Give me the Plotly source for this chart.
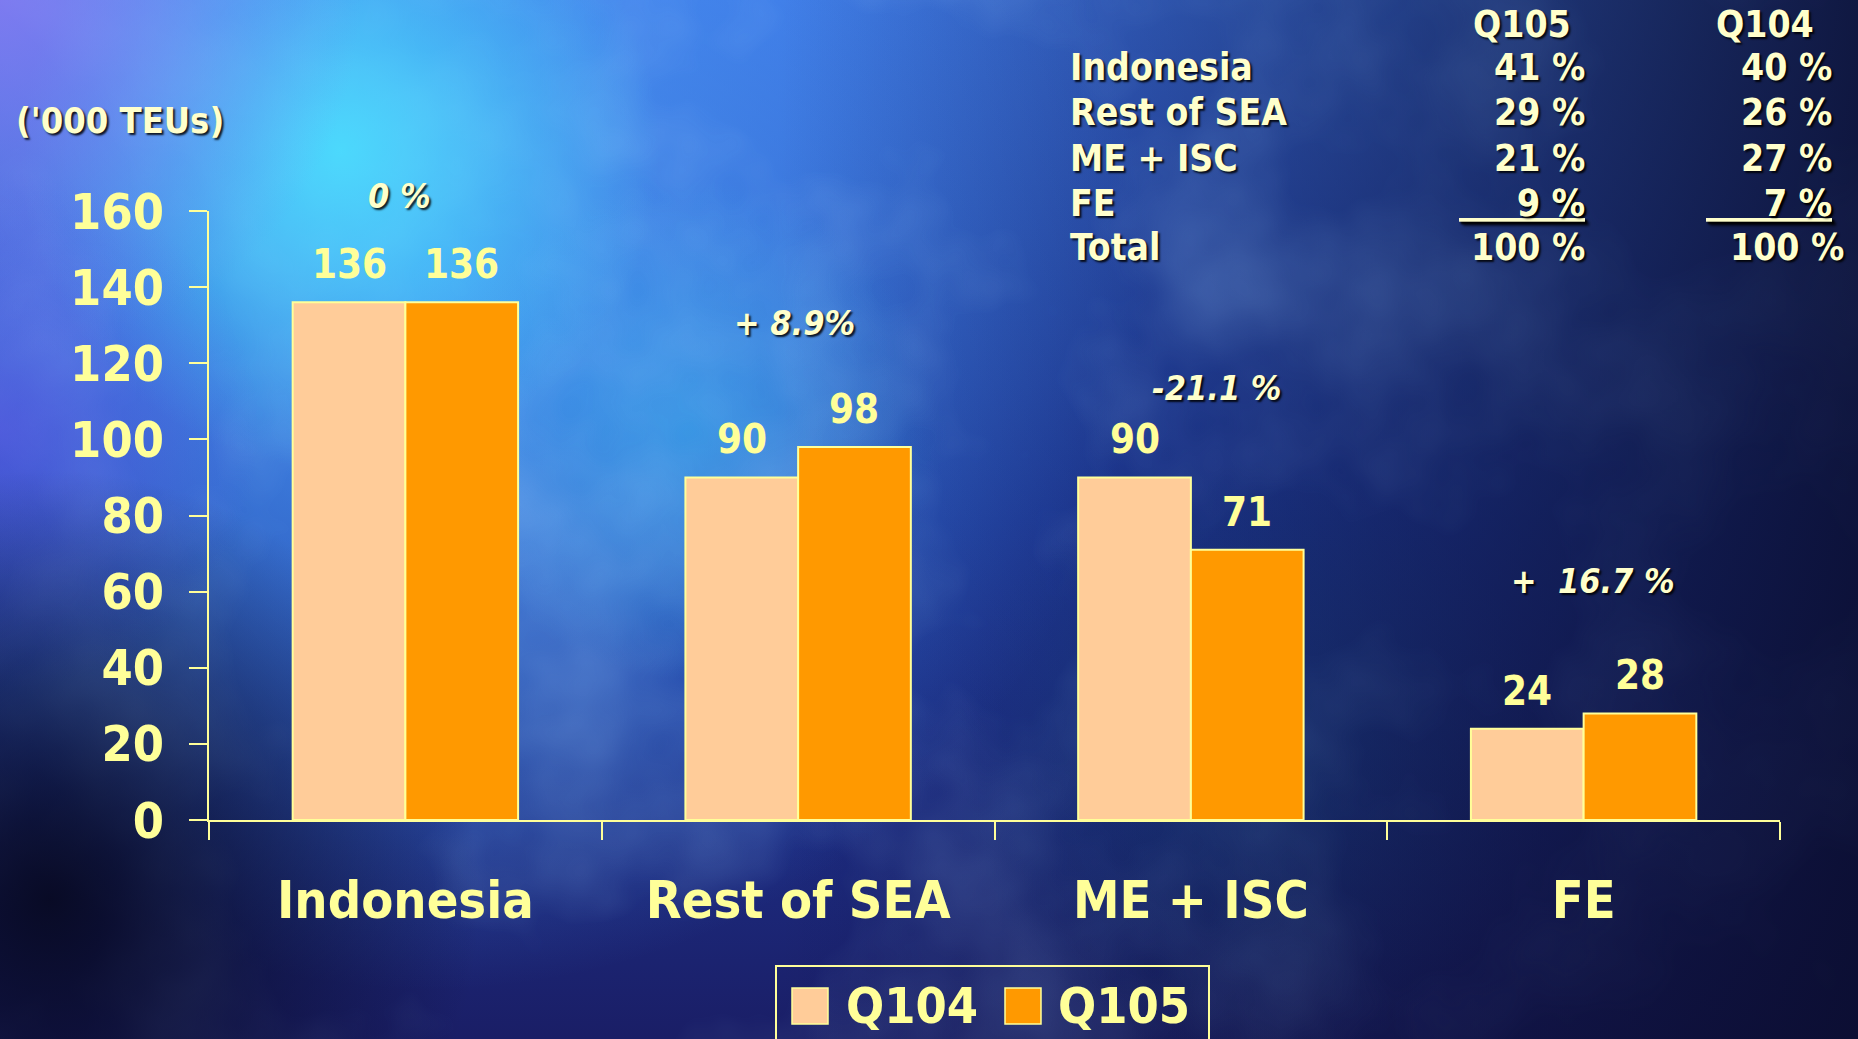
import base64
import plotly.graph_objects as go

# ---------------- data ----------------
categories = ["Indonesia", "Rest of SEA", "ME + ISC", "FE"]
series_names = ["Q104", "Q105"]
q104 = [136, 90, 90, 24]
q105 = [136, 98, 71, 28]
change_labels = ["0 %", "+ 8.9%", "-21.1 %", "+  16.7 %"]
y_tick_values = [0, 20, 40, 60, 80, 100, 120, 140, 160]
unit_label = "('000 TEUs)"

share_rows = ["Indonesia", "Rest of SEA", "ME + ISC", "FE", "Total"]
share_cols = ["Q105", "Q104"]
share_q105 = [41, 29, 21, 9, 100]
share_q104 = [40, 26, 27, 7, 100]

# ---------------- style / layout constants ----------------
W, H = 1858, 1039
L, R, T, B = 209, 78, 211, 219
PW, PH = W - L - R, H - T - B
FONT = "DejaVu Sans Condensed, DejaVu Sans, sans-serif"
YEL = "#FFFF99"
PALE = "#FFFFCC"
COLORS = ["#FFCC99", "#FF9900"]
SHADOW = "2px 2px 2px rgba(0,0,0,0.85)"
BARGAP = 0.426


def px_x(px):
    return (px - L) / PW


def px_y(py):
    return (H - B - py) / PH


# ---------------- background (svg gradients + soft cloud texture) ----------------
svg = f"""<svg xmlns="http://www.w3.org/2000/svg" width="{W}" height="{H}" viewBox="0 0 {W} {H}">
<defs>
<linearGradient id="v" x1="0" y1="0" x2="0" y2="1">
<stop offset="0" stop-color="#3c72e2"/><stop offset="0.5" stop-color="#2140a8"/><stop offset="1" stop-color="#1a1e66"/>
</linearGradient>
<linearGradient id="h" x1="0" y1="0" x2="1" y2="0">
<stop offset="0.42" stop-color="#0a0c30" stop-opacity="0"/><stop offset="1" stop-color="#0a0c2c" stop-opacity="0.88"/>
</linearGradient>
<radialGradient id="r1" cx="430" cy="270" r="720" gradientUnits="userSpaceOnUse">
<stop offset="0" stop-color="#4a9af6" stop-opacity="0.9"/><stop offset="1" stop-color="#4a9af6" stop-opacity="0"/>
</radialGradient>
<radialGradient id="r2" cx="340" cy="150" r="320" gradientUnits="userSpaceOnUse">
<stop offset="0" stop-color="#4ae4ff" stop-opacity="0.85"/><stop offset="1" stop-color="#4ae4ff" stop-opacity="0"/>
</radialGradient>
<radialGradient id="r3" cx="690" cy="430" r="250" gradientUnits="userSpaceOnUse">
<stop offset="0" stop-color="#3ab8f2" stop-opacity="0.5"/><stop offset="1" stop-color="#3ab8f2" stop-opacity="0"/>
</radialGradient>
<radialGradient id="r4" cx="0" cy="0" r="360" gradientUnits="userSpaceOnUse">
<stop offset="0" stop-color="#8c7af2" stop-opacity="0.8"/><stop offset="1" stop-color="#8c7af2" stop-opacity="0"/>
</radialGradient>
<radialGradient id="r5" cx="50" cy="900" r="430" gradientUnits="userSpaceOnUse">
<stop offset="0" stop-color="#06071c" stop-opacity="0.9"/><stop offset="1" stop-color="#06071c" stop-opacity="0"/>
</radialGradient>
<radialGradient id="r6" cx="0" cy="430" r="260" gradientUnits="userSpaceOnUse">
<stop offset="0" stop-color="#6252ea" stop-opacity="0.55"/><stop offset="1" stop-color="#6252ea" stop-opacity="0"/>
</radialGradient>
<radialGradient id="r7" cx="1250" cy="760" r="300" gradientUnits="userSpaceOnUse">
<stop offset="0" stop-color="#1f5a9a" stop-opacity="0.45"/><stop offset="1" stop-color="#1f5a9a" stop-opacity="0"/>
</radialGradient>
<radialGradient id="fade" cx="600" cy="300" r="1200" gradientUnits="userSpaceOnUse">
<stop offset="0" stop-color="#fff" stop-opacity="1"/><stop offset="0.55" stop-color="#fff" stop-opacity="0.55"/><stop offset="1" stop-color="#fff" stop-opacity="0.1"/>
</radialGradient>
<mask id="m"><rect width="{W}" height="{H}" fill="url(#fade)"/></mask>
<filter id="n" x="0" y="0" width="1" height="1">
<feTurbulence type="fractalNoise" baseFrequency="0.0045" numOctaves="4" seed="7"/>
<feColorMatrix type="matrix" values="0 0 0 0 0.35  0 0 0 0 0.62  0 0 0 0 1  0 0 0 1.5 -0.62"/>
</filter>
</defs>
<rect width="{W}" height="{H}" fill="url(#v)"/>
<rect width="{W}" height="{H}" fill="url(#r1)"/>
<rect width="{W}" height="{H}" fill="url(#r3)"/>
<rect width="{W}" height="{H}" fill="url(#r7)"/>
<rect width="{W}" height="{H}" fill="url(#h)"/>
<rect width="{W}" height="{H}" filter="url(#n)" mask="url(#m)" opacity="0.55"/>
<rect width="{W}" height="{H}" fill="url(#r2)"/>
<rect width="{W}" height="{H}" fill="url(#r4)"/>
<rect width="{W}" height="{H}" fill="url(#r6)"/>
<rect width="{W}" height="{H}" fill="url(#r5)"/>
</svg>"""
bg_src = "data:image/svg+xml;base64," + base64.b64encode(svg.encode()).decode()

# ---------------- figure ----------------
fig = go.Figure()
for name, vals, col in zip(series_names, [q104, q105], COLORS):
    fig.add_trace(go.Bar(
        x=categories, y=vals, name=name,
        marker=dict(color=col, line=dict(color=YEL, width=2)),
        showlegend=False,
    ))

annotations = []
half = (1 - BARGAP) / 4
# value labels above bars
for j, vals in enumerate([q104, q105]):
    off = -half if j == 0 else half
    for i, v in enumerate(vals):
        annotations.append(dict(
            x=i + off, y=v, xref="x", yref="y", text=str(v), showarrow=False,
            yanchor="middle", yshift=38,
            font=dict(family=FONT, size=40, color=YEL, weight="bold"),
        ))

# change percentage labels
change_shift = [(-6, 106), (-4, 124), (26, 89), (9, 132)]
for i, txt in enumerate(change_labels):
    top = max(q104[i], q105[i])
    annotations.append(dict(
        x=i, y=top, xref="x", yref="y", text=txt, showarrow=False,
        xshift=change_shift[i][0], yshift=change_shift[i][1], yanchor="middle",
        font=dict(family=FONT, size=34, color=PALE, weight="bold", style="italic",
                  shadow=SHADOW),
    ))

# unit label
annotations.append(dict(
    x=px_x(14), y=px_y(120), xref="paper", yref="paper", text=unit_label,
    showarrow=False, xanchor="left", yanchor="middle",
    font=dict(family=FONT, size=36, color=PALE, weight="bold", shadow=SHADOW),
))

# share table
tfont = dict(family=FONT, size=37, color=PALE, weight="bold", shadow=SHADOW)
for cx, head in zip([1522, 1765], share_cols):
    annotations.append(dict(x=px_x(cx), y=px_y(24), xref="paper", yref="paper",
                            text=head, showarrow=False, xanchor="center",
                            yanchor="middle", font=tfont))
row_y = [68, 113, 158, 203, 247]
for k, lab in enumerate(share_rows):
    annotations.append(dict(x=px_x(1068), y=px_y(row_y[k]), xref="paper", yref="paper",
                            text=lab, showarrow=False, xanchor="left",
                            yanchor="middle", font=tfont))
    for rx, vals in zip([1587, 1834], [share_q105, share_q104]):
        txt = f"{vals[k]} %"
        if lab == "FE":
            txt = "<u>\u2007\u2007 " + txt + "</u>"
        if lab == "Total" and rx == 1834:
            rx = 1846
        annotations.append(dict(x=px_x(rx), y=px_y(row_y[k]), xref="paper",
                                yref="paper", text=txt, showarrow=False,
                                xanchor="right", yanchor="middle", font=tfont))

# custom legend
shapes = [dict(type="rect", xref="paper", yref="paper",
               x0=px_x(776), x1=px_x(1209), y0=px_y(1050), y1=px_y(966),
               line=dict(color=YEL, width=2), fillcolor="rgba(0,0,0,0)")]
for sx, tx, name, col in zip([792, 1005], [844, 1056], series_names, COLORS):
    shapes.append(dict(type="rect", xref="paper", yref="paper",
                       x0=px_x(sx), x1=px_x(sx + 36), y0=px_y(1024), y1=px_y(988),
                       line=dict(color=YEL, width=1.5), fillcolor=col))
    annotations.append(dict(x=px_x(tx), y=px_y(1006), xref="paper", yref="paper",
                            text=name, showarrow=False, xanchor="left",
                            yanchor="middle",
                            font=dict(family=FONT, size=50, color=YEL, weight="bold")))

fig.update_layout(
    width=W, height=H,
    margin=dict(l=L, r=R, t=T, b=B, pad=0),
    paper_bgcolor="#1a2272", plot_bgcolor="rgba(0,0,0,0)",
    barmode="group", bargap=BARGAP, bargroupgap=0,
    annotations=annotations, shapes=shapes,
    images=[dict(source=bg_src, xref="paper", yref="paper",
                 x=px_x(0), y=px_y(0), sizex=W / PW, sizey=H / PH,
                 xanchor="left", yanchor="top", sizing="stretch", layer="below")],
    showlegend=False,
)
fig.update_xaxes(
    type="category", range=[-0.5, 3.5], showline=True, linecolor=YEL, linewidth=2,
    ticks="outside", tickson="boundaries", ticklen=18, tickwidth=2, tickcolor=YEL,
    showgrid=False, zeroline=False, ticklabelstandoff=34,
    tickfont=dict(family=FONT, size=52, color=YEL, weight="bold"),
)
fig.update_yaxes(
    range=[0, 160], tickvals=y_tick_values, showline=True, linecolor=YEL, linewidth=2,
    ticks="outside", ticklen=18, tickwidth=2, tickcolor=YEL, showgrid=False,
    zeroline=False, ticklabelstandoff=15,
    tickfont=dict(family=FONT, size=50, color=YEL, weight="bold"),
)

fig.write_html("out.html")
